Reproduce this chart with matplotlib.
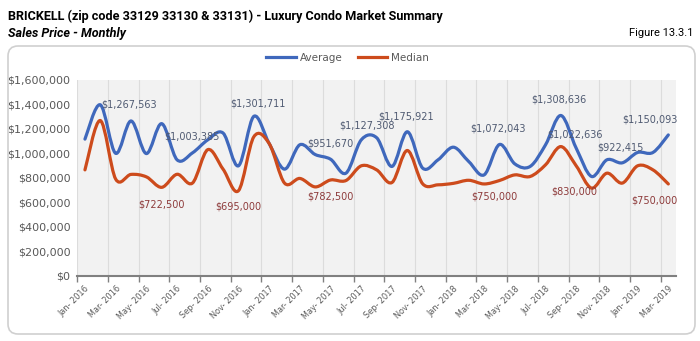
"""
Brickell luxury condo sales price - monthly average / median
"""

import numpy as np
import matplotlib.pyplot as plt
from matplotlib.path import Path
from matplotlib.patches import PathPatch, FancyBboxPatch
from matplotlib.lines import Line2D
from matplotlib.ticker import FuncFormatter, FixedLocator
from matplotlib.transforms import IdentityTransform

plt.rcParams['font.family'] = ['DejaVu Sans']

# monthly values, Jan-2016 .. Mar-2019
average = [1116000, 1396000, 1000000, 1264000, 998000, 1242000, 947000, 1003385,
           1110000, 1165000, 898000, 1301711, 1080000, 871000, 1070000, 990000,
           951670, 838000, 1110000, 1127308, 893000, 1175921, 879000, 947000,
           1050000, 933000, 824000, 1072043, 914000, 893000, 1069000, 1308636,
           1042000, 811000, 947000, 922415, 1007000, 1007000, 1150093]
median = [865000, 1267563, 790000, 828000, 808000, 722500, 829000, 757000,
          1030000, 870000, 695000, 1135000, 1080000, 757000, 795000, 726000,
          782500, 778000, 898000, 865000, 762000, 1023000, 751000, 743000,
          755000, 780000, 750000, 778000, 824000, 811000, 906000, 1055000,
          898000, 716000, 838000, 757000, 898000, 865000, 750000]
tick_labels = ['Jan- 2016', 'Mar- 2016', 'May- 2016', 'Jul- 2016', 'Sep- 2016',
               'Nov- 2016', 'Jan- 2017', 'Mar- 2017', 'May- 2017', 'Jul- 2017',
               'Sep- 2017', 'Nov- 2017', 'Jan- 2018', 'Mar- 2018', 'May- 2018',
               'Jul- 2018', 'Sep- 2018', 'Nov- 2018', 'Jan- 2019', 'Mar- 2019']

# data labels as they sit in the chart: (month index, y position, text)
avg_labels = [(2.9, 1396000, '$1,267,563'), (7.0, 1135000, '$1,003,385'),
              (11.3, 1410000, '$1,301,711'), (16.0, 1078000, '$951,670'),
              (18.4, 1224000, '$1,127,308'), (20.9, 1301000, '$1,175,921'),
              (26.9, 1200000, '$1,072,043'), (30.9, 1437000, '$1,308,636'),
              (31.9, 1151000, '$1,022,636'), (34.85, 1050000, '$922,415'),
              (36.8, 1280000, '$1,150,093')]
med_labels = [(5.0, 580000, '$722,500'), (10.0, 566000, '$695,000'),
              (16.0, 648000, '$782,500'), (26.7, 648000, '$750,000'),
              (31.9, 688000, '$830,000'), (37.1, 615000, '$750,000')]

BLUE = '#3F68BC'
RED = '#CD4B1C'
GREY = '#595959'


def smooth_path(x, y):
    """Excel-like smoothed line as cubic bezier segments"""
    n = len(x)
    verts = [(x[0], y[0])]
    codes = [Path.MOVETO]
    for k in range(n - 1):
        xa, ya = x[max(k - 1, 0)], y[max(k - 1, 0)]
        xb, yb = x[min(k + 2, n - 1)], y[min(k + 2, n - 1)]
        c1 = (x[k] + (x[k + 1] - xa) / 6, y[k] + (y[k + 1] - ya) / 6)
        c2 = (x[k + 1] - (xb - x[k]) / 6, y[k + 1] - (yb - y[k]) / 6)
        verts += [c1, c2, (x[k + 1], y[k + 1])]
        codes += [Path.CURVE4] * 3
    return Path(verts, codes)


fig = plt.figure(figsize=(7, 3.41), dpi=100)

# outer rounded border
fig.add_artist(FancyBboxPatch((8, 7), 687, 288,
                              boxstyle='round,pad=0,rounding_size=10',
                              transform=IdentityTransform(),
                              facecolor='none', edgecolor='#d0d0d0', lw=1.2))

fig.text(0.012, 0.953, 'BRICKELL (zip code 33129 33130 & 33131) - Luxury Condo Market Summary',
         fontsize=9.1, fontweight='bold', va='center', ha='left',
         family=['Roboto', 'DejaVu Sans'])
fig.text(0.012, 0.903, 'Sales Price - Monthly', fontsize=9.1, fontweight='bold',
         style='italic', va='center', ha='left', family=['Roboto', 'DejaVu Sans'])
fig.text(0.99, 0.903, 'Figure 13.3.1', fontsize=8, va='center', ha='right',
         family=['Roboto', 'DejaVu Sans'])

ax = fig.add_axes([0.1104, 0.191, 0.8553, 0.575])
ax.set_facecolor('#f2f2f2')

x = np.arange(len(average))
ax.add_patch(PathPatch(smooth_path(x, average), fill=False, edgecolor=BLUE,
                       lw=2.3, capstyle='round', joinstyle='round', zorder=3))
ax.add_patch(PathPatch(smooth_path(x, median), fill=False, edgecolor=RED,
                       lw=2.3, capstyle='round', joinstyle='round', zorder=3))

for i, y, t in avg_labels:
    ax.text(i, y, t, fontsize=7, color='#4F5A72', ha='center', va='center', zorder=4)
for i, y, t in med_labels:
    ax.text(i, y, t, fontsize=7, color='#8E3B3B', ha='center', va='center', zorder=4)

ax.set_xlim(-0.5, len(average) - 0.5)
ax.set_ylim(0, 1600000)

ax.set_yticks(np.arange(0, 1600001, 200000))
ax.yaxis.set_major_formatter(FuncFormatter(lambda v, p: f'${v:,.0f}'))
ax.tick_params(axis='y', length=0, labelsize=8, labelcolor=GREY, pad=5)

ax.xaxis.set_major_locator(FixedLocator(np.arange(0, len(average), 2)))
ax.set_xticklabels(tick_labels, rotation=45, ha='right', rotation_mode='anchor')
ax.tick_params(axis='x', which='major', length=0, labelsize=5.9, labelcolor=GREY, pad=6)
ax.xaxis.set_minor_locator(FixedLocator(np.arange(-0.5, len(average), 2)))
ax.tick_params(axis='x', which='minor', length=4, color='#808080', width=1)
ax.grid(True, which='minor', axis='x', color='#dcdcdc', lw=0.8)
ax.grid(False, which='major')

for s in ['top', 'right', 'left']:
    ax.spines[s].set_visible(False)
ax.spines['bottom'].set_color('#808080')
ax.spines['bottom'].set_linewidth(1.5)

handles = [Line2D([], [], color=BLUE, lw=2.3), Line2D([], [], color=RED, lw=2.3)]
fig.legend(handles, ['Average', 'Median'], loc='center', bbox_to_anchor=(0.497, 0.83),
           ncol=2, frameon=False, fontsize=7.5, labelcolor=GREY, handlelength=2.8,
           columnspacing=1.5, handletextpad=0.4)

plt.savefig('out.png', dpi=100)
